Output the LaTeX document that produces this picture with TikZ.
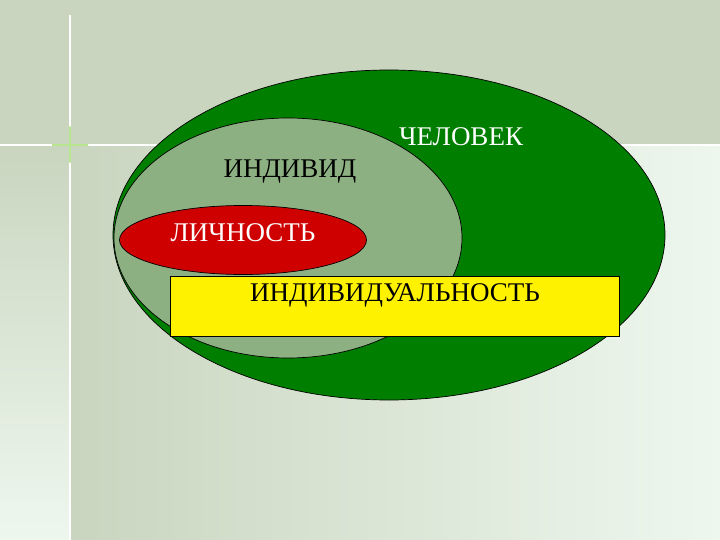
\documentclass[tikz,border=0pt]{standalone}
\usepackage{fontspec}
\setmainfont{Liberation Serif}
\usetikzlibrary{shapes.geometric}
\definecolor{topbg}{HTML}{C9D5BF}
\definecolor{lightbg}{HTML}{EEF7EE}
\definecolor{bigg}{HTML}{007E00}
\definecolor{greyg}{HTML}{8DB082}
\definecolor{redl}{HTML}{CF0000}
\definecolor{glow}{HTML}{2E7D18}
\definecolor{glowlight}{HTML}{B8E690}
\tikzset{
  blob/.style={ellipse, draw=black, line width=0.7pt, inner sep=0pt},
  lbl/.style={font=\fontsize{27}{30}\selectfont, inner sep=0pt},
}
\begin{document}
\begin{tikzpicture}[x=1pt,y=-1pt]
\useasboundingbox (0,0) rectangle (720,540);
% background
\fill[topbg] (0,0) rectangle (720,145);
\shade[top color=topbg, bottom color=lightbg] (0,145) rectangle (70,540);
\shade[left color=topbg, right color=lightbg] (70,145) rectangle (720,540);
\draw[white, line width=1.4pt] (70,15) -- (70,540);
\draw[white, line width=1.4pt] (0,145) -- (720,145);
\shade[left color=white, middle color=glow, right color=white] (38,144.1) rectangle (102,145.9);
\shade[top color=white, middle color=glow, bottom color=white] (69.1,112) rectangle (70.9,178);
\shade[left color=glowlight, middle color=glow, right color=glowlight] (52,144.4) rectangle (88,145.6);
\shade[top color=glowlight, middle color=glow, bottom color=glowlight] (69.4,127) rectangle (70.6,163);
% shapes
\node[blob, fill=bigg, minimum width=552pt, minimum height=330pt] (chelovek) at (389,235) {};
\node[blob, fill=greyg, minimum width=348pt, minimum height=240pt] (individ) at (288,238) {};
\node[blob, fill=redl, minimum width=247pt, minimum height=69pt] (lichnost) at (243,240) {};
\node[draw=black, line width=0.7pt, fill=yellow, minimum width=449pt, minimum height=60pt, inner sep=0pt] (indiv) at (394.5,306.5) {};
% labels
\node[lbl, text=white] (tchel) at (461,137) {ЧЕЛОВЕК};
\node[lbl, text=black] (tind) at (290,172) {ИНДИВИД};
\node[lbl, text=white] (tlich) at (243,233) {ЛИЧНОСТЬ};
\node[lbl, text=black] (tindiv) at (395,295) {ИНДИВИДУАЛЬНОСТЬ};
\end{tikzpicture}
\end{document}
